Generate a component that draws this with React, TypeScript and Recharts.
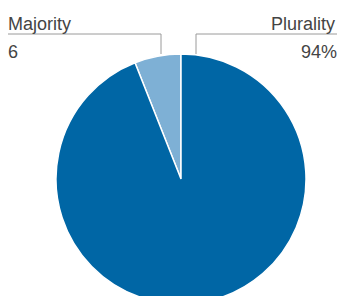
import { Cell, Pie, PieChart } from "recharts";

const categories = ["Majority", "Plurality"];
const shares = [6, 94];
const valueLabels = ["6", "94%"];

const COLORS = ["#7eb0d5", "#0066a5"];

const data = categories.map((name, i) => ({ name, value: shares[i] }));

const FONT = "'Liberation Sans', Arial, sans-serif";

// labels sit above the pie, each with an elbow leader down to the rim
const renderLabel = (props: any) => {
  const { index, cx, cy, outerRadius } = props;
  const top = cy - outerRadius;
  const lineY = top - 20;
  const left = index === 0;
  const elbowX = left ? cx - 20 : cx + 15;
  const edgeX = left ? 8 : 337;
  return (
    <g key={`lbl-${index}`}>
      <polyline
        points={`${edgeX},${lineY} ${elbowX},${lineY} ${elbowX},${top}`}
        fill="none"
        stroke="#9a9a9a"
        strokeWidth={1}
      />
      <text
        x={left ? edgeX : edgeX - 2}
        y={lineY - 4}
        textAnchor={left ? "start" : "end"}
        fontSize={18}
        fontFamily={FONT}
        fill="#444"
      >
        {categories[index]}
      </text>
      <text
        x={edgeX}
        y={lineY + 24}
        textAnchor={left ? "start" : "end"}
        fontSize={18}
        fontFamily={FONT}
        fill="#444"
      >
        {valueLabels[index]}
      </text>
    </g>
  );
};

export default function App() {
  return (
    <div style={{ position: "absolute", left: 0, top: 0, width: 340, height: 296, overflow: "hidden", background: "#fff" }}>
      <PieChart width={340} height={296} margin={{ top: 0, right: 0, bottom: 0, left: 0 }}>
        <Pie
          data={data}
          dataKey="value"
          cx={181}
          cy={179}
          outerRadius={125}
          startAngle={90}
          endAngle={450}
          stroke="#fff"
          strokeWidth={1.5}
          label={renderLabel}
          labelLine={false}
          isAnimationActive={false}
        >
          {data.map((d, i) => (
            <Cell key={d.name} fill={COLORS[i]} />
          ))}
        </Pie>
      </PieChart>
    </div>
  );
}
